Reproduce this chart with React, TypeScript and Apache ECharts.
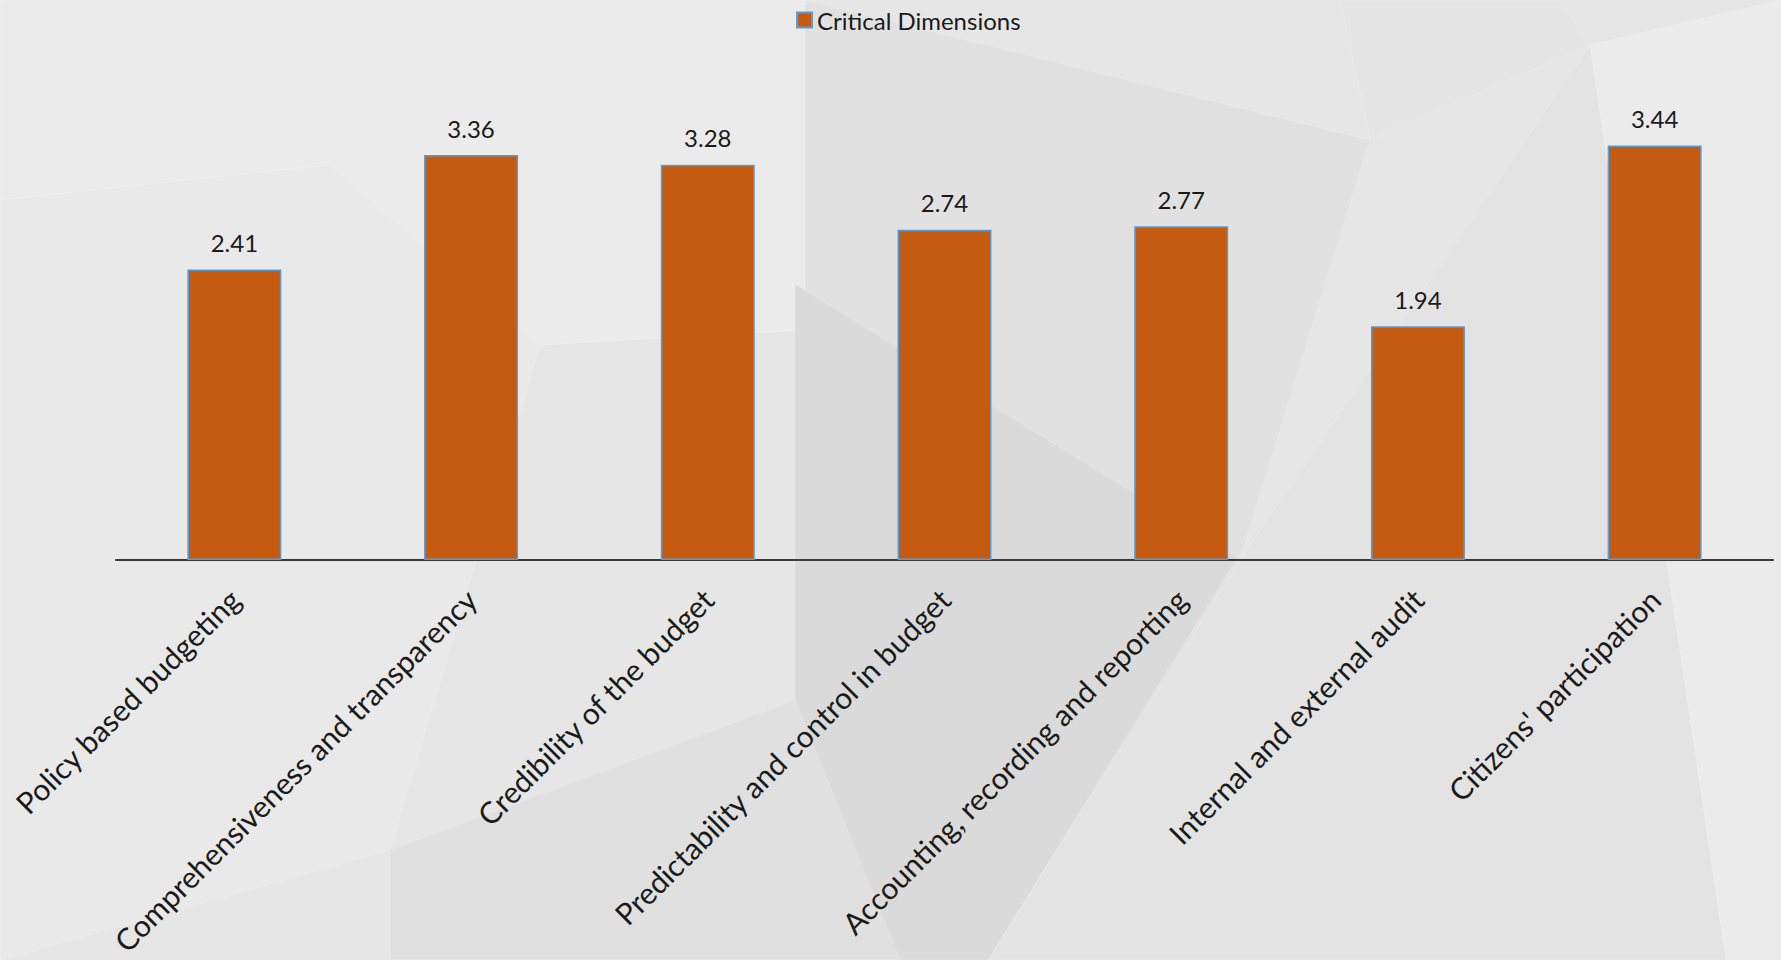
import React, { useEffect, useRef } from "react";
import * as echarts from "echarts";

const categories: string[] = [
  "Policy based budgeting",
  "Comprehensiveness and transparency",
  "Credibility of the budget",
  "Predictability and control in budget",
  "Accounting, recording and reporting",
  "Internal and external audit",
  "Citizens' participation",
];
const seriesName = "Critical Dimensions";
const values: number[] = [2.41, 3.36, 3.28, 2.74, 2.77, 1.94, 3.44];

const FONT = "Lato, 'Noto Sans', sans-serif";

export default function App() {
  const ref = useRef<HTMLDivElement>(null);
  useEffect(() => {
    document.body.style.margin = "0";
    if (!ref.current) return;
    const chart = echarts.init(ref.current, null, { renderer: "svg" });
    const bgPolys: { pts: number[][]; fill: string }[] = [
      { pts: [[0, 0], [805, 0], [805, 330], [540, 345], [330, 165], [0, 200]], fill: "#ebebeb" },
      { pts: [[0, 200], [330, 165], [540, 345], [390, 850], [0, 960]], fill: "#e9e9e9" },
      { pts: [[805, 0], [1370, 140], [1240, 560], [990, 960], [805, 960]], fill: "#e1e1e1" },
      { pts: [[795, 284], [1238, 557], [988, 960], [795, 960]], fill: "#dadada" },
      { pts: [[390, 850], [795, 700], [900, 960], [390, 960]], fill: "#e0e0e0" },
      { pts: [[1590, 45], [1781, 0], [1781, 960], [1726, 960]], fill: "#ebebeb" },
      { pts: [[1370, 140], [1590, 45], [1560, 0], [1340, 0]], fill: "#e5e5e5" },
      { pts: [[1240, 560], [1590, 45], [1726, 960], [988, 960]], fill: "#e3e3e3" },
    ];
    chart.setOption({
      animation: false,
      backgroundColor: "#e6e6e6",
      graphic: bgPolys.map((p) => ({
        type: "polygon",
        z: -10,
        silent: true,
        shape: { points: p.pts },
        style: { fill: p.fill, stroke: "rgba(255,255,255,0.2)", lineWidth: 1 },
      })),
      legend: {
        show: true,
        left: 791,
        top: 3,
        itemWidth: 15,
        itemHeight: 15,
        itemGap: 5,
        textStyle: { fontFamily: FONT, fontSize: 24, color: "#1a1a1a" },
        data: [{ name: seriesName, icon: "rect" }],
      },
      grid: { left: 116, right: 8, top: 78, bottom: 400, containLabel: false },
      xAxis: {
        type: "category",
        data: categories,
        axisLine: { show: true, lineStyle: { color: "#3a3a3a", width: 2 } },
        axisTick: { show: false },
        axisLabel: {
          interval: 0,
          rotate: 45,
          margin: 34,
          fontFamily: FONT,
          fontSize: 30,
          color: "#1a1a1a",
        },
        splitLine: { show: false },
      },
      yAxis: {
        type: "value",
        min: 0,
        max: 4,
        show: false,
        splitLine: { show: false },
      },
      series: [
        {
          name: seriesName,
          type: "bar",
          data: values,
          barWidth: 94,
          itemStyle: { color: "#C55A11", borderColor: "#5B9BD5", borderWidth: 1.5 },
          label: {
            show: true,
            position: "top",
            distance: 15,
            fontFamily: FONT,
            fontSize: 24,
            color: "#1a1a1a",
            formatter: (p: any) => Number(p.value).toFixed(2),
          },
        },
      ],
    });
    return () => chart.dispose();
  }, []);
  return <div ref={ref} style={{ width: 1781, height: 960 }} />;
}
